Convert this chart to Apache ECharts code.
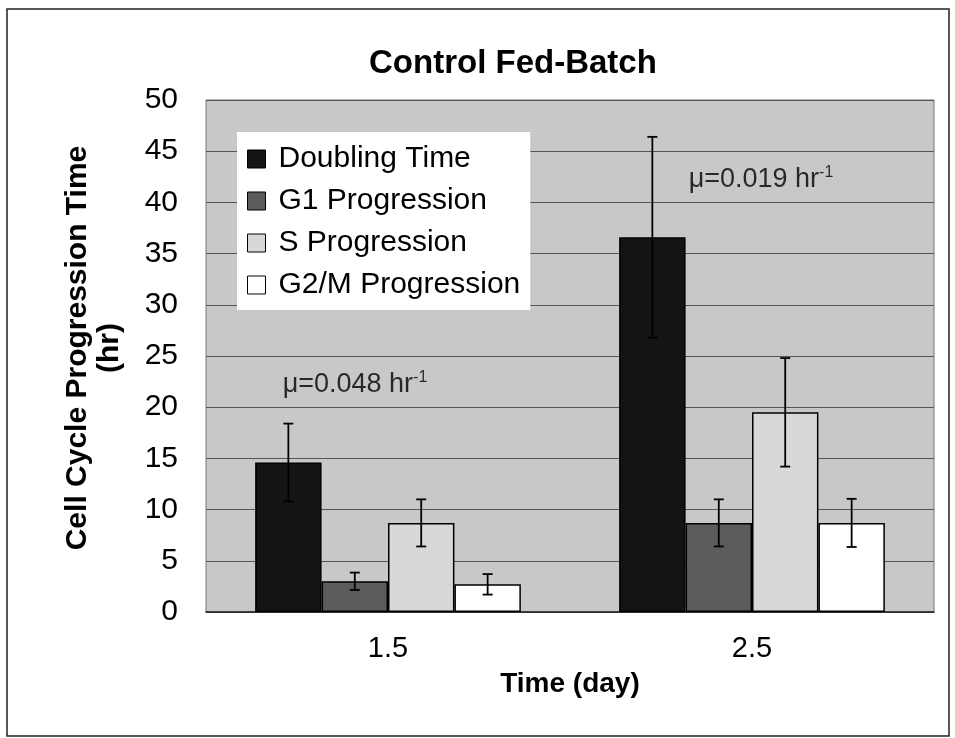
<!DOCTYPE html>
<html>
<head>
<meta charset="utf-8">
<script src="https://cdn.jsdelivr.net/npm/echarts@6/dist/echarts.min.js"></script>
<style>
html, body { margin: 0; padding: 0; background: #fff; }
#main { width: 955px; height: 738px; }
</style>
</head>
<body>
<div id="main"></div>
<script>
// 数据
var categories = ['1.5', '2.5'];
var seriesNames = ['Doubling Time', 'G1 Progression', 'S Progression', 'G2/M Progression'];
var doublingTime = [14.6, 36.6];
var doublingErr = [3.8, 9.8];
var g1Time = [3.0, 8.7];
var g1Err = [0.85, 2.3];
var sTime = [8.7, 19.5];
var sErr = [2.3, 5.3];
var g2mTime = [2.7, 8.7];
var g2mErr = [1.0, 2.35];
var yMin = 0, yMax = 50, yStep = 5;
// 比生长速率标注
var annoValues = [22.2, 42.2];
var annoTexts = ['\u03bc=0.048 hr', '\u03bc=0.019 hr'];
var annoSup = ['-1', '-1'];

var catGap = 0.27;
var font = 'Liberation Sans, Arial, sans-serif';
var colors = ['#141414', '#5c5c5c', '#d8d8d8', '#ffffff'];
var values = [doublingTime, g1Time, sTime, g2mTime];
var errs = [doublingErr, g1Err, sErr, g2mErr];

var myChart = echarts.init(document.getElementById('main'));

//误差线数据
var errData = [];
for (var k = 0; k < values.length; k++) {
	for (var c = 0; c < categories.length; c++) {
		errData.push([c, values[k][c], errs[k][c], k]);
	}
}

var barSeries = seriesNames.map(function(name, k) {
	return {
		name: name,
		type: 'bar',
		data: values[k],
		barGap: 0,
		barCategoryGap: (catGap * 100) + '%',
		itemStyle: {
			color: colors[k],
			borderColor: '#000',
			borderWidth: 1.5
		}
	};
});

var option = {
	animation: false,
	backgroundColor: '#fff',
	title: {
		text: 'Control Fed-Batch',
		left: 364,
		top: 42,
		textStyle: {
			fontSize: 33,
			fontFamily: font,
			fontWeight: 'bold',
			color: '#000'
		}
	},
	legend: {
		orient: 'vertical',
		left: 237,
		top: 132,
		padding: [12, 10, 10, 10],
		itemGap: 12,
		itemWidth: 18,
		itemHeight: 18,
		backgroundColor: '#fff',
		icon: 'rect',
		data: seriesNames.map(function(name, k) {
			return {
				name: name,
				itemStyle: { color: colors[k], borderColor: '#000', borderWidth: 1 }
			};
		}),
		textStyle: {
			fontSize: 30,
			fontFamily: font,
			color: '#000',
			padding: [0, 0, 0, 8]
		}
	},
	grid: {
		left: 206,
		right: 21,
		top: 100,
		bottom: 126,
		show: true,
		backgroundColor: '#c8c8c8',
		borderColor: '#777',
		borderWidth: 1
	},
	xAxis: {
		type: 'category',
		data: categories,
		name: 'Time (day)',
		nameLocation: 'middle',
		nameGap: 58,
		nameTextStyle: {
			fontSize: 28,
			fontFamily: font,
			fontWeight: 'bold',
			color: '#000'
		},
		axisTick: { show: false },
		axisLine: { lineStyle: { color: '#222', width: 1.5 } },
		axisLabel: {
			margin: 22,
			fontSize: 29,
			fontFamily: font,
			color: '#000'
		}
	},
	yAxis: {
		type: 'value',
		min: yMin,
		max: yMax,
		interval: yStep,
		name: 'Cell Cycle Progression Time\n(hr)',
		nameLocation: 'middle',
		nameGap: 80,
		nameTextStyle: {
			fontSize: 30,
			fontFamily: font,
			fontWeight: 'bold',
			color: '#000',
			lineHeight: 32,
			padding: [0, 0, 0, 16]
		},
		axisLine: { show: false },
		axisTick: { show: false },
		axisLabel: {
			margin: 28,
			fontSize: 30,
			fontFamily: font,
			color: '#000'
		},
		splitLine: { lineStyle: { color: '#555', width: 1 } }
	},
	graphic: [{
		type: 'rect',
		silent: true,
		shape: { x: 7, y: 9, width: 942, height: 727 },
		style: { fill: 'none', stroke: '#222', lineWidth: 1.5 }
	}],
	series: barSeries.concat([{
		//误差线
		type: 'custom',
		name: 'err',
		z: 5,
		data: errData,
		renderItem: function(params, api) {
			var cat = api.value(0), v = api.value(1), e = api.value(2), k = api.value(3);
			var catW = api.size([1, 0])[0];
			var bw = catW * (1 - catGap) / values.length;
			var x = api.coord([cat, v])[0] + (k - (values.length - 1) / 2) * bw;
			var yTop = api.coord([cat, v + e])[1];
			var yBot = api.coord([cat, v - e])[1];
			var cap = 5;
			var st = { stroke: '#000', lineWidth: 1.8 };
			return {
				type: 'group',
				children: [
					{ type: 'line', shape: { x1: x, y1: yTop, x2: x, y2: yBot }, style: st },
					{ type: 'line', shape: { x1: x - cap, y1: yTop, x2: x + cap, y2: yTop }, style: st },
					{ type: 'line', shape: { x1: x - cap, y1: yBot, x2: x + cap, y2: yBot }, style: st }
				]
			};
		}
	}, {
		//标注
		type: 'scatter',
		name: 'anno',
		symbolSize: 0,
		z: 6,
		data: annoValues.map(function(v, i) {
			return {
				value: [i, v],
				label: { offset: i === 0 ? [-33, 0] : [9, 0] }
			};
		}),
		label: {
			show: true,
			position: 'inside',
			formatter: function(p) {
				return '{m|' + annoTexts[p.dataIndex] + '}{sup|' + annoSup[p.dataIndex] + '}';
			},
			rich: {
				m: { fontSize: 27, fontFamily: font, color: '#000', lineHeight: 30 },
				sup: { fontSize: 16, fontFamily: font, color: '#000', verticalAlign: 'top', lineHeight: 30, padding: [0, 0, 10, 0] }
			}
		}
	}])
};
myChart.setOption(option);
</script>
</body>
</html>
